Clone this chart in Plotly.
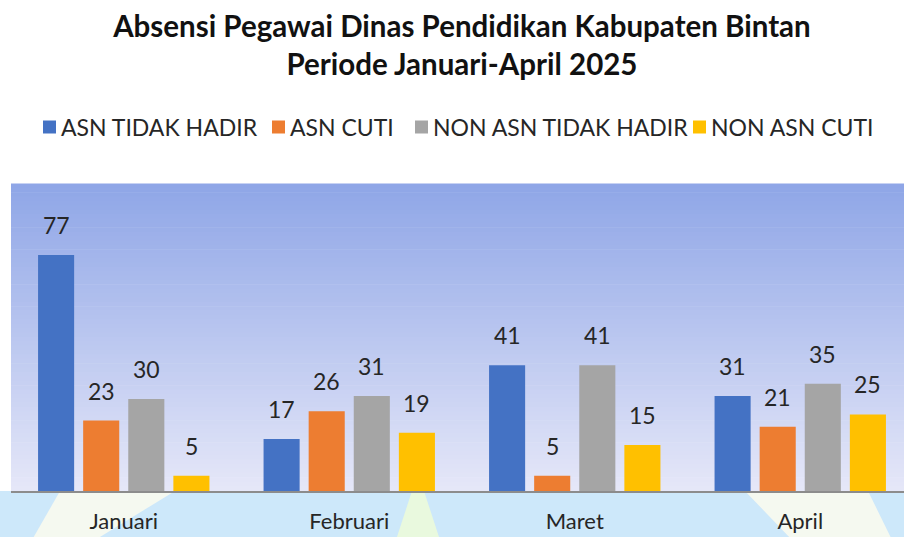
import plotly.graph_objects as go

months = ["Januari", "Februari", "Maret", "April"]
series_names = ["ASN TIDAK HADIR", "ASN CUTI", "NON ASN TIDAK HADIR", "NON ASN CUTI"]
asn_tidak_hadir = [77, 17, 41, 31]
asn_cuti = [23, 26, 5, 21]
non_asn_tidak_hadir = [30, 31, 41, 35]
non_asn_cuti = [5, 19, 15, 25]
series_values = [asn_tidak_hadir, asn_cuti, non_asn_tidak_hadir, non_asn_cuti]
colors = ["#4472C4", "#ED7D31", "#A5A5A5", "#FFC000"]

W, H = 904, 537
ML, MR, MT, MB = 11, 0, 184, 46
PW, PH = W - ML - MR, H - MT - MB
CAT_PX = 225.5
FONT = "Lato"

fig = go.Figure()
for name, vals, col in zip(series_names, series_values, colors):
    fig.add_trace(go.Bar(x=months, y=vals, name=name, marker_color=col,
                         marker_line_width=0, showlegend=False, hoverinfo="skip"))

# value labels above each bar
bargap = 0.2
slot = (1 - bargap) / len(series_values)
for i, vals in enumerate(series_values):
    for j, v in enumerate(vals):
        fig.add_annotation(x=j + (i - (len(series_values) - 1) / 2) * slot, y=v,
                           xref="x", yref="y", text=str(v), showarrow=False,
                           yanchor="bottom", yshift=14,
                           font=dict(family=FONT, size=23, color="#262626"))


def pxx(xp):
    return (xp - ML) / PW


def pxy(yp):
    return (H - MB - yp) / PH


shapes = []
# gradient plot background
top = (143, 166, 231)
bot = (229, 231, 248)
N = 70
for k in range(N):
    t = k / (N - 1)
    c = tuple(round(top[m] + (bot[m] - top[m]) * t) for m in range(3))
    shapes.append(dict(type="rect", xref="paper", yref="paper",
                       x0=0, x1=1.02, y0=1 - (k + 1) / N, y1=1 - k / N + 0.002,
                       fillcolor="rgb(%d,%d,%d)" % c, line_width=0, layer="below"))
# light blue band under axis
shapes.append(dict(type="rect", xref="paper", yref="paper", x0=-0.02, x1=1.02,
                   y0=-MB / PH - 0.02, y1=0, fillcolor="#CDE8FA", line_width=0,
                   layer="below"))

beams = [
    ([(60, 491), (175, 491), (95, 540), (32, 540)], "rgba(255,253,238,0.8)"),
    ([(745, 491), (868, 491), (892, 540), (792, 540)], "rgba(255,253,238,0.8)"),
    ([(412, 491), (424, 491), (440, 540), (396, 540)], "rgba(240,252,215,0.8)"),
]
for pts, fc in beams:
    path = "M" + " L".join("%.4f,%.4f" % (pxx(a), pxy(b)) for a, b in pts) + " Z"
    shapes.append(dict(type="path", xref="paper", yref="paper", path=path,
                       fillcolor=fc, line_width=0, layer="below"))

# legend (drawn as squares + labels)
legend_x = [43, 272, 415, 693]
legend_y = 127
SQ = 13
for name, col, lx in zip(series_names, colors, legend_x):
    shapes.append(dict(type="rect", xref="paper", yref="paper",
                       x0=pxx(lx), x1=pxx(lx + SQ),
                       y0=pxy(legend_y + SQ / 2), y1=pxy(legend_y - SQ / 2),
                       fillcolor=col, line_width=0))
    fig.add_annotation(x=pxx(lx + SQ + 3), y=pxy(legend_y), xref="paper", yref="paper",
                       text=name, showarrow=False, xanchor="left", yanchor="middle",
                       font=dict(family=FONT, size=23, color="#262626"))

fig.update_layout(
    width=W, height=H, autosize=False,
    margin=dict(l=ML, r=MR, t=MT, b=MB, autoexpand=False),
    paper_bgcolor="white", plot_bgcolor="rgba(0,0,0,0)",
    barmode="group", bargap=bargap, bargroupgap=0.2,
    font=dict(family=FONT, color="#262626"),
    title=dict(text="<b>Absensi Pegawai Dinas Pendidikan Kabupaten Bintan<br>Periode Januari-April 2025</b>",
               x=0.511, xanchor="center", xref="container",
               y=1 - 37 / H, yanchor="middle", yref="container",
               font=dict(family=FONT, size=29.5, color="#111111")),
    shapes=shapes,
    xaxis=dict(range=[-0.5, -0.5 + PW / CAT_PX], showline=True, linecolor="#8C8C8C",
               linewidth=2, ticks="outside", ticklen=10, tickcolor="rgba(0,0,0,0)",
               tickfont=dict(family=FONT, size=22, color="#262626"), showgrid=False,
               automargin=False, fixedrange=True),
    yaxis=dict(range=[0, PH / 3.065], visible=False, automargin=False, fixedrange=True),
)

fig.write_html("out.html", config={"displayModeBar": False},
               post_script="document.body.style.margin='0';")
